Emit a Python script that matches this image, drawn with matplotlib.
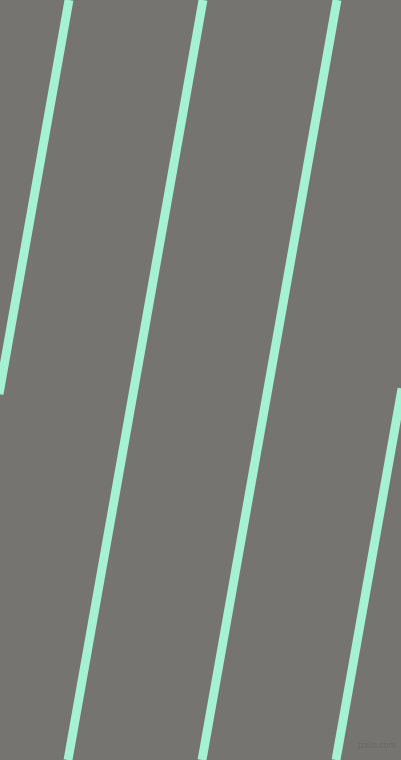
import matplotlib

matplotlib.use("Agg")
import matplotlib.pyplot as plt

# stripe positions (pixels): x where each stripe meets the top edge and the bottom edge
stripe_top_x = [-65, 69, 203, 337, 471]
stripe_bottom_x = [-200, -66, 68, 202, 336]
img_w, img_h = 402, 760

bg_color = "#767470"
stripe_color = "#a5f2d3"

fig = plt.figure(figsize=(4.02, 7.60), dpi=100)
fig.patch.set_facecolor(bg_color)
ax = fig.add_axes([0, 0, 1, 1])
ax.set_facecolor(bg_color)
ax.set_xlim(0, img_w)
ax.set_ylim(img_h, 0)
ax.axis("off")

for x0, x1 in zip(stripe_top_x, stripe_bottom_x):
    ax.plot([x0, x1], [0, img_h], color=stripe_color, linewidth=6.4, solid_capstyle="butt")

ax.text(396, 750, "pixlis.com", ha="right", va="bottom", fontsize=5.5, color="#6a6865")

fig.savefig("out.png", dpi=100, facecolor=bg_color)
